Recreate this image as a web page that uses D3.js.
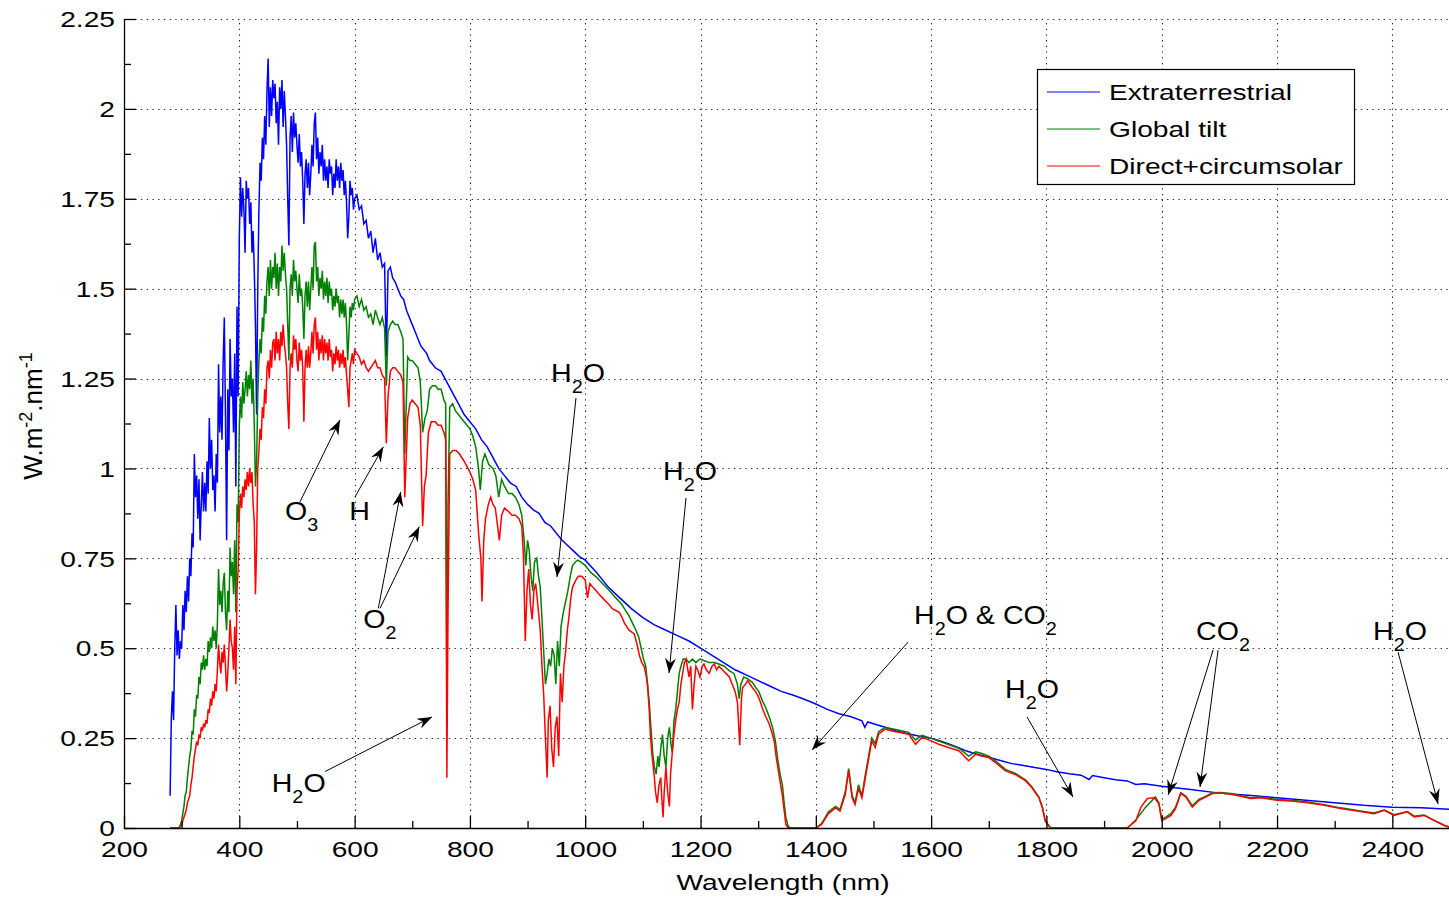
<!DOCTYPE html>
<html><head><meta charset="utf-8">
<script src="https://cdn.jsdelivr.net/npm/d3@7"></script>
<style>
html,body{margin:0;padding:0;background:#fff;}
svg{display:block;font-family:"Liberation Sans",Arial,sans-serif;}
</style></head>
<body><svg id="chart" width="1449" height="898"></svg>
<script>
// ---------- DATA (wavelength nm, W.m-2.nm-1) ----------
const extraterrestrial = [
[280,0.09],[282,0.30],[284,0.38],[286,0.30],[288,0.50],[290,0.62],[292,0.48],[294,0.55],[296,0.47],[298,0.52],
[300,0.50],[302,0.62],[304,0.55],[306,0.66],[308,0.60],[310,0.70],[312,0.63],[314,0.75],[316,0.70],[318,0.82],
[320,0.78],[322,1.04],[324,0.92],[326,0.98],[328,0.86],[330,0.97],[332,0.80],[334,0.90],[336,0.99],[338,0.88],
[340,0.96],[342,0.88],[344,1.02],[346,0.93],[348,1.14],[350,1.00],[352,1.08],[354,0.94],[356,0.98],[358,0.88],
[360,1.04],[362,0.96],[364,1.29],[366,1.10],[368,1.20],[370,1.08],[372,1.30],[374,1.42],[376,1.15],[378,0.80],
[380,1.22],[382,1.05],[384,1.36],[386,1.20],[388,1.25],[390,1.10],[392,1.32],[394,0.95],[396,1.45],[398,1.20],
[400,1.64],[402,1.81],[404,1.70],[406,1.78],[408,1.72],[410,1.60],[412,1.80],[414,1.75],[416,1.78],[418,1.68],
[420,1.74],[422,1.60],[424,1.66],[426,1.55],[428,1.40],[430,1.15],[432,1.50],[434,1.72],[436,1.85],[438,1.80],
[440,1.92],[442,1.86],[444,1.98],[446,1.90],[448,2.05],[450,2.14],[452,1.95],[454,2.06],[456,1.98],[458,2.08],
[460,2.03],[462,2.07],[464,1.96],[466,2.02],[468,1.90],[470,2.06],[472,2.00],[474,2.08],[476,1.95],[478,2.05],
[480,1.98],[482,1.90],[484,1.75],[486,1.62],[488,1.92],[490,1.98],[492,1.88],[494,1.99],[496,1.92],[498,1.96],
[500,1.90],[502,1.85],[504,1.93],[506,1.84],[508,1.88],[510,1.80],[512,1.68],[514,1.82],[516,1.86],[518,1.78],
[520,1.85],[522,1.76],[524,1.82],[526,1.90],[528,1.84],[530,1.96],[532,1.99],[534,1.86],[536,1.92],[538,1.82],
[540,1.88],[542,1.84],[544,1.90],[546,1.80],[548,1.86],[550,1.80],[552,1.84],[554,1.78],[556,1.86],[558,1.82],
[560,1.84],[562,1.76],[564,1.82],[566,1.78],[568,1.86],[570,1.80],[572,1.84],[574,1.78],[576,1.85],[578,1.80],
[580,1.83],[582,1.76],[584,1.80],[586,1.74],[588,1.64],[590,1.70],[592,1.80],[594,1.76],[596,1.78],[598,1.72],
[600,1.75],[604,1.76],[608,1.72],[612,1.73],[616,1.68],[620,1.69],[624,1.64],[628,1.66],[632,1.60],[636,1.64],
[640,1.58],[644,1.60],[648,1.56],[652,1.57],[655,1.31],[658,1.55],[662,1.56],[666,1.53],[670,1.52],[675,1.50],
[680,1.48],[685,1.47],[690,1.44],[695,1.42],[700,1.40],[705,1.38],[710,1.36],[715,1.34],[720,1.33],[725,1.32],
[730,1.30],[740,1.28],[750,1.27],[760,1.24],[770,1.21],[780,1.18],[790,1.15],[800,1.13],[810,1.11],[820,1.08],
[830,1.06],[840,1.03],[850,1.00],[860,0.98],[870,0.96],[880,0.95],[890,0.92],[900,0.90],[910,0.885],[920,0.875],
[930,0.85],[940,0.84],[950,0.82],[960,0.80],[970,0.785],[980,0.77],[990,0.755],[1000,0.745],[1020,0.71],[1040,0.67],
[1060,0.64],[1080,0.61],[1100,0.585],[1120,0.565],[1140,0.55],[1160,0.535],[1180,0.52],[1200,0.50],[1220,0.48],
[1240,0.46],[1260,0.44],[1280,0.425],[1300,0.41],[1320,0.395],[1340,0.38],[1360,0.37],[1380,0.358],[1400,0.345],
[1420,0.33],[1440,0.318],[1460,0.31],[1480,0.298],[1485,0.28],[1490,0.295],[1500,0.29],[1520,0.28],[1540,0.27],
[1560,0.262],[1580,0.255],[1600,0.25],[1620,0.24],[1640,0.228],[1660,0.215],[1680,0.205],[1700,0.197],[1720,0.188],
[1740,0.179],[1760,0.174],[1780,0.168],[1800,0.163],[1820,0.156],[1840,0.151],[1860,0.147],[1874,0.135],[1880,0.146],
[1900,0.14],[1920,0.134],[1940,0.131],[1955,0.121],[1970,0.123],[2000,0.116],[2050,0.107],[2100,0.097],[2150,0.091],
[2200,0.084],[2250,0.077],[2300,0.07],[2350,0.063],[2400,0.058],[2450,0.056],[2500,0.052]
];
const globalTilt = [
[280,0],[296,0],[300,0.02],[304,0.06],[306,0.09],[308,0.10],[310,0.14],[312,0.17],[314,0.20],[316,0.22],[318,0.27],
[320,0.26],[322,0.33],[324,0.31],[326,0.37],[328,0.36],[330,0.42],[332,0.40],[334,0.46],[336,0.44],[338,0.48],
[340,0.44],[342,0.47],[344,0.45],[346,0.52],[348,0.49],[350,0.53],[352,0.50],[354,0.56],[356,0.52],[358,0.55],
[360,0.50],[362,0.57],[364,0.72],[366,0.62],[368,0.66],[370,0.60],[372,0.68],[374,0.71],[376,0.60],[378,0.55],
[380,0.66],[382,0.60],[384,0.78],[386,0.70],[388,0.74],[390,0.65],[392,0.80],[394,0.60],[396,0.90],[398,0.85],
[400,1.12],[402,1.20],[404,1.14],[406,1.24],[408,1.18],[410,1.22],[412,1.27],[414,1.20],[416,1.26],[418,1.22],
[420,1.30],[422,1.18],[424,1.25],[426,1.12],[428,0.95],[430,1.02],[432,1.20],[434,1.30],[436,1.36],[438,1.32],
[440,1.42],[442,1.38],[444,1.48],[446,1.43],[448,1.52],[450,1.56],[452,1.48],[454,1.58],[456,1.50],[458,1.56],
[460,1.53],[462,1.60],[464,1.50],[466,1.57],[468,1.48],[470,1.56],[472,1.52],[474,1.62],[476,1.55],[478,1.60],
[480,1.54],[482,1.50],[484,1.40],[486,1.30],[488,1.50],[490,1.54],[492,1.48],[494,1.58],[496,1.52],[498,1.55],
[500,1.50],[502,1.46],[504,1.54],[506,1.48],[508,1.50],[510,1.45],[512,1.36],[514,1.48],[516,1.52],[518,1.45],
[520,1.52],[522,1.44],[524,1.50],[526,1.56],[528,1.50],[530,1.62],[532,1.63],[534,1.52],[536,1.56],[538,1.48],
[540,1.53],[542,1.50],[544,1.55],[546,1.47],[548,1.52],[550,1.48],[552,1.53],[554,1.46],[556,1.52],[558,1.48],
[560,1.50],[562,1.44],[564,1.48],[566,1.45],[568,1.50],[570,1.46],[572,1.48],[574,1.42],[576,1.47],[578,1.43],
[580,1.47],[582,1.42],[584,1.46],[586,1.40],[588,1.30],[590,1.37],[592,1.45],[594,1.42],[596,1.46],[598,1.44],
[600,1.47],[604,1.48],[608,1.45],[612,1.47],[616,1.44],[620,1.45],[624,1.42],[628,1.43],[632,1.40],[636,1.44],
[640,1.42],[644,1.40],[648,1.42],[652,1.39],[655,1.23],[658,1.38],[662,1.40],[666,1.41],[670,1.40],[675,1.40],
[680,1.38],[684,1.36],[687,1.04],[690,1.20],[692,1.31],[696,1.30],[700,1.30],[705,1.29],[710,1.28],[714,1.24],
[718,1.10],[722,1.14],[726,1.16],[730,1.22],[735,1.23],[740,1.23],[745,1.22],[750,1.22],[755,1.19],[758,1.18],
[760,0.35],[762,0.90],[765,1.17],[770,1.18],[775,1.16],[780,1.15],[790,1.13],[800,1.11],[805,1.09],[810,1.06],
[815,1.00],[818,0.94],[822,1.02],[826,1.04],[833,1.01],[840,1.00],[845,0.98],[850,0.92],[855,0.97],[860,0.95],
[867,0.93],[873,0.93],[879,0.92],[885,0.90],[890,0.87],[894,0.80],[897,0.73],[900,0.80],[903,0.77],[906,0.70],
[909,0.66],[912,0.74],[916,0.75],[919,0.70],[922,0.67],[925,0.58],[928,0.49],[931,0.40],[934,0.43],[937,0.47],
[940,0.45],[943,0.50],[946,0.48],[949,0.40],[952,0.52],[955,0.45],[958,0.56],[962,0.60],[966,0.63],[970,0.66],
[974,0.70],[978,0.73],[983,0.74],[987,0.745],[992,0.74],[1000,0.73],[1010,0.71],[1018,0.70],[1027,0.685],[1036,0.67],
[1045,0.655],[1053,0.64],[1062,0.625],[1068,0.61],[1076,0.59],[1082,0.57],[1088,0.55],[1093,0.53],[1097,0.50],
[1101,0.47],[1105,0.45],[1108,0.40],[1111,0.35],[1114,0.28],[1117,0.21],[1120,0.17],[1123,0.15],[1126,0.20],
[1128,0.17],[1131,0.22],[1134,0.26],[1137,0.20],[1140,0.17],[1143,0.25],[1146,0.28],[1149,0.23],[1151,0.21],
[1154,0.30],[1157,0.33],[1160,0.38],[1163,0.43],[1166,0.45],[1170,0.47],[1175,0.47],[1180,0.46],[1186,0.47],
[1192,0.46],[1199,0.47],[1207,0.465],[1215,0.46],[1224,0.46],[1232,0.456],[1241,0.45],[1250,0.437],[1258,0.43],
[1264,0.40],[1267,0.36],[1270,0.40],[1275,0.42],[1282,0.415],[1290,0.405],[1296,0.39],[1301,0.38],[1307,0.355],
[1313,0.335],[1319,0.31],[1325,0.28],[1330,0.24],[1334,0.19],[1338,0.15],[1342,0.12],[1345,0.07],[1348,0.03],
[1352,0.005],[1356,0],[1400,0],[1410,0.012],[1422,0.045],[1434,0.06],[1442,0.052],[1451,0.10],[1457,0.165],
[1463,0.09],[1468,0.07],[1474,0.12],[1480,0.09],[1486,0.15],[1491,0.195],[1497,0.25],[1503,0.235],[1509,0.268],
[1520,0.28],[1532,0.276],[1544,0.272],[1561,0.266],[1573,0.245],[1584,0.258],[1599,0.25],[1613,0.242],[1630,0.232],
[1648,0.222],[1665,0.20],[1677,0.212],[1688,0.207],[1700,0.20],[1712,0.186],[1729,0.163],[1746,0.152],[1764,0.133],
[1775,0.114],[1787,0.086],[1793,0.058],[1798,0.02],[1807,0],[1940,0],[1955,0.022],[1972,0.058],[1989,0.086],
[1995,0.07],[2000,0.025],[2007,0.03],[2016,0.04],[2024,0.058],[2033,0.098],[2042,0.088],[2053,0.062],[2065,0.08],
[2076,0.088],[2088,0.098],[2102,0.099],[2120,0.096],[2137,0.09],[2154,0.084],[2172,0.086],[2200,0.079],[2224,0.077],
[2253,0.072],[2282,0.065],[2310,0.056],[2339,0.049],[2368,0.042],[2386,0.05],[2403,0.037],[2426,0.046],[2438,0.033],
[2455,0.036],[2472,0.022],[2490,0.008],[2500,0.002]
];
const directCircumsolar = [
[280,0],[296,0],[300,0.01],[304,0.03],[308,0.05],[310,0.07],[312,0.08],[314,0.09],[316,0.12],[318,0.14],[320,0.17],
[322,0.20],[324,0.22],[326,0.24],[328,0.23],[330,0.26],[332,0.25],[334,0.28],[336,0.27],[338,0.29],[340,0.28],
[342,0.30],[344,0.29],[346,0.33],[348,0.32],[350,0.36],[352,0.34],[354,0.38],[356,0.36],[358,0.40],[360,0.38],
[362,0.44],[364,0.51],[366,0.46],[368,0.43],[370,0.49],[372,0.46],[374,0.51],[376,0.45],[378,0.38],[380,0.43],
[382,0.50],[384,0.58],[386,0.52],[388,0.50],[390,0.44],[392,0.56],[394,0.40],[396,0.66],[398,0.72],[400,0.87],
[402,0.93],[404,0.89],[406,0.95],[408,0.92],[410,0.97],[412,0.94],[414,0.99],[416,0.95],[418,1.00],[420,0.96],
[422,0.99],[424,0.90],[426,0.85],[428,0.65],[430,0.78],[432,1.00],[434,1.05],[436,1.11],[438,1.08],[440,1.17],
[442,1.14],[444,1.22],[446,1.18],[448,1.28],[450,1.30],[452,1.25],[454,1.33],[456,1.28],[458,1.35],[460,1.36],
[462,1.30],[464,1.38],[466,1.32],[468,1.36],[470,1.30],[472,1.38],[474,1.34],[476,1.40],[478,1.35],[480,1.32],
[482,1.28],[484,1.18],[486,1.11],[488,1.28],[490,1.32],[492,1.28],[494,1.37],[496,1.33],[498,1.36],[500,1.30],
[502,1.27],[504,1.35],[506,1.30],[508,1.33],[510,1.28],[512,1.13],[514,1.28],[516,1.33],[518,1.28],[520,1.34],
[522,1.28],[524,1.32],[526,1.38],[528,1.32],[530,1.40],[532,1.42],[534,1.33],[536,1.38],[538,1.30],[540,1.36],
[542,1.32],[544,1.37],[546,1.30],[548,1.36],[550,1.32],[552,1.35],[554,1.30],[556,1.36],[558,1.31],[560,1.33],
[562,1.27],[564,1.32],[566,1.29],[568,1.34],[570,1.30],[572,1.33],[574,1.28],[576,1.32],[578,1.29],[580,1.33],
[582,1.28],[584,1.31],[586,1.26],[588,1.22],[590,1.17],[592,1.28],[594,1.30],[596,1.32],[598,1.29],[600,1.33],
[604,1.32],[608,1.31],[612,1.29],[616,1.30],[620,1.28],[624,1.27],[628,1.28],[632,1.29],[636,1.30],[640,1.28],
[644,1.28],[648,1.26],[652,1.25],[655,1.07],[658,1.20],[662,1.27],[666,1.28],[670,1.28],[675,1.27],[680,1.26],
[684,1.24],[687,0.92],[690,1.05],[692,1.14],[696,1.18],[700,1.19],[705,1.18],[710,1.17],[714,1.12],[718,0.84],
[721,0.95],[724,0.98],[728,1.10],[733,1.13],[740,1.13],[745,1.12],[750,1.12],[755,1.10],[758,1.08],[760,0.14],
[762,0.60],[765,1.04],[770,1.05],[776,1.05],[782,1.04],[790,1.02],[800,0.99],[805,0.97],[810,0.94],[815,0.82],
[819,0.75],[821,0.63],[824,0.80],[827,0.86],[832,0.90],[836,0.92],[840,0.90],[844,0.89],[848,0.84],[851,0.80],
[855,0.87],[860,0.89],[867,0.88],[873,0.87],[879,0.87],[885,0.86],[890,0.84],[893,0.75],[896,0.52],[899,0.66],
[902,0.72],[905,0.62],[908,0.58],[911,0.66],[914,0.68],[916,0.65],[919,0.60],[922,0.55],[925,0.45],[928,0.37],
[931,0.25],[934,0.14],[936,0.30],[939,0.34],[942,0.22],[945,0.17],[948,0.28],[951,0.31],[954,0.20],[957,0.43],
[960,0.35],[963,0.45],[966,0.49],[969,0.55],[972,0.59],[975,0.64],[978,0.67],[984,0.69],[988,0.70],[994,0.70],
[1000,0.69],[1004,0.64],[1008,0.68],[1013,0.67],[1019,0.66],[1024,0.65],[1030,0.64],[1036,0.63],[1042,0.62],
[1047,0.61],[1053,0.605],[1059,0.60],[1064,0.585],[1068,0.57],[1072,0.56],[1076,0.55],[1081,0.545],[1085,0.54],
[1090,0.51],[1094,0.48],[1098,0.46],[1102,0.45],[1105,0.43],[1108,0.40],[1111,0.33],[1113,0.26],[1116,0.20],
[1120,0.14],[1122,0.10],[1125,0.07],[1128,0.12],[1131,0.14],[1133,0.08],[1135,0.03],[1137,0.10],[1140,0.17],
[1143,0.10],[1146,0.06],[1148,0.15],[1151,0.21],[1154,0.26],[1157,0.30],[1160,0.33],[1163,0.35],[1166,0.40],
[1169,0.43],[1172,0.46],[1175,0.47],[1178,0.44],[1180,0.42],[1183,0.45],[1186,0.33],[1189,0.40],[1192,0.45],
[1195,0.44],[1199,0.42],[1203,0.45],[1206,0.456],[1210,0.44],[1215,0.43],[1220,0.45],[1224,0.456],[1228,0.44],
[1232,0.45],[1238,0.44],[1244,0.43],[1250,0.42],[1255,0.40],[1260,0.38],[1264,0.35],[1268,0.23],[1271,0.36],
[1273,0.39],[1278,0.40],[1282,0.41],[1286,0.40],[1290,0.39],[1295,0.38],[1299,0.37],[1304,0.35],[1308,0.33],
[1313,0.31],[1319,0.29],[1323,0.27],[1328,0.24],[1331,0.20],[1334,0.17],[1338,0.13],[1342,0.09],[1345,0.05],
[1348,0.01],[1352,0],[1400,0],[1410,0.01],[1422,0.04],[1434,0.056],[1442,0.047],[1451,0.093],[1457,0.16],
[1463,0.084],[1468,0.065],[1474,0.11],[1480,0.084],[1486,0.14],[1491,0.187],[1497,0.243],[1503,0.224],[1509,0.261],
[1520,0.275],[1532,0.27],[1544,0.266],[1561,0.261],[1573,0.233],[1584,0.252],[1599,0.243],[1613,0.233],[1630,0.224],
[1648,0.215],[1665,0.187],[1677,0.205],[1688,0.20],[1700,0.196],[1712,0.182],[1729,0.159],[1746,0.149],[1764,0.131],
[1775,0.112],[1787,0.084],[1793,0.056],[1798,0.019],[1807,0],[1940,0],[1955,0.02],[1964,0.058],[1975,0.082],
[1987,0.084],[1995,0.068],[2000,0.021],[2007,0.026],[2016,0.035],[2024,0.054],[2033,0.096],[2042,0.086],[2053,0.058],
[2065,0.077],[2076,0.086],[2088,0.096],[2102,0.097],[2120,0.094],[2137,0.088],[2154,0.082],[2172,0.084],[2200,0.077],
[2224,0.075],[2253,0.07],[2282,0.063],[2310,0.054],[2339,0.047],[2368,0.04],[2386,0.049],[2403,0.035],[2426,0.045],
[2438,0.031],[2455,0.035],[2472,0.021],[2490,0.007],[2500,0.001]
];
const seriesNames = ["Extraterrestrial","Global tilt","Direct+circumsolar"];
const xMajorTicks = [200,400,600,800,1000,1200,1400,1600,1800,2000,2200,2400];
const xMinorTicks = [300,500,700,900,1100,1300,1500,1700,1900,2100,2300];
const yMajorTicks = [0,0.25,0.5,0.75,1,1.25,1.5,1.75,2,2.25];
const yTickLabels = ["0","0.25","0.5","0.75","1","1.25","1.5","1.75","2","2.25"];
const yMinorTicks = [0.125,0.375,0.625,0.875,1.125,1.375,1.625,1.875,2.125];
const xLabel = "Wavelength (nm)";
// annotation labels: text parts [text, isSubscript], anchor in data units
const annotationLabels = [
  {parts:[["O",0],["3",1]], at:[479.3,0.857]},
  {parts:[["H",0]], at:[590.8,0.857]},
  {parts:[["O",0],["2",1]], at:[615.1,0.555]},
  {parts:[["H",0],["2",1],["O",0]], at:[456.2,0.101]},
  {parts:[["H",0],["2",1],["O",0]], at:[940.7,1.240]},
  {parts:[["H",0],["2",1],["O",0]], at:[1135,0.968]},
  {parts:[["H",0],["2",1],["O & CO",0],["2",1]], at:[1570.3,0.567]},
  {parts:[["H",0],["2",1],["O",0]], at:[1728.2,0.362]},
  {parts:[["CO",0],["2",1]], at:[2059.5,0.523]},
  {parts:[["H",0],["2",1],["O",0]], at:[2366.5,0.523]}
];
// arrows: [from nm, from val, tip nm, tip val]
const annotationArrows = [
  [505.3,0.907,574.7,1.135],
  [600.7,0.921,649.8,1.060],
  [641.1,0.611,680.0,0.935],
  [644.1,0.611,712.2,0.838],
  [548.7,0.157,734.3,0.309],
  [984.0,1.196,951.1,0.698],
  [1174.8,0.918,1145.4,0.431],
  [1560.0,0.517,1393.4,0.217],
  [1766.3,0.309,1846.1,0.086],
  [2089.0,0.495,2011.0,0.092],
  [2097.7,0.495,2066.4,0.114],
  [2410.0,0.489,2479.3,0.067]
];

// ---------- LAYOUT ----------
const colors = ["#0000ff","#008000","#ff0000"];
const pL=124, pR=1450, pT=19, pB=828;
const SX = 1.28;      // horizontal stretch of axis text
const fs = 22;
const svg = d3.select("#chart");
svg.append("rect").attr("width",1449).attr("height",898).attr("fill","#fff");

const x = d3.scaleLinear().domain([200,2500]).range([pL,pR]);
const y = d3.scaleLinear().domain([0,2.25]).range([pB,pT]);

// grid
const grid = svg.append("g").attr("stroke","#222").attr("stroke-width",1.1)
  .attr("stroke-dasharray","1.3,4.4").attr("fill","none");
grid.selectAll("line.v").data(xMajorTicks.filter(d=>d>200)).join("line")
  .attr("x1",d=>Math.round(x(d))+0.5).attr("x2",d=>Math.round(x(d))+0.5)
  .attr("y1",pB).attr("y2",pT);
grid.selectAll("line.h").data(yMajorTicks.filter(d=>d>0)).join("line")
  .attr("x1",pL).attr("x2",pR)
  .attr("y1",d=>Math.round(y(d))+0.5).attr("y2",d=>Math.round(y(d))+0.5);

// clip
svg.append("clipPath").attr("id","clip").append("rect")
  .attr("x",pL).attr("y",0).attr("width",pR-pL).attr("height",pB+1);

const line = d3.line().x(d=>x(d[0])).y(d=>y(d[1]));
const plotG = svg.append("g").attr("clip-path","url(#clip)");
[extraterrestrial, globalTilt, directCircumsolar].forEach((s,i)=>{
  plotG.append("path").datum(s).attr("d",line).attr("fill","none")
    .attr("stroke",colors[i]).attr("stroke-width",1.5).attr("stroke-linejoin","miter");
});

// axes
const axisStyle = g => {
  g.select(".domain").attr("stroke","#000").attr("stroke-width",1.3);
  g.selectAll(".tick line").attr("stroke","#000").attr("stroke-width",1.3);
};
const xAxis = svg.append("g").attr("transform",`translate(0,${pB})`)
  .call(d3.axisBottom(x).tickValues(xMajorTicks).tickSizeInner(-12).tickSizeOuter(0).tickFormat(d3.format("d")))
  .call(axisStyle);
xAxis.selectAll(".tick text").attr("font-size",fs).attr("fill","#000")
  .attr("font-family","Liberation Sans, Arial, sans-serif")
  .attr("y",0).attr("dy",0).attr("transform",`translate(0,29) scale(${SX},1)`);
svg.append("g").attr("transform",`translate(0,${pB})`)
  .call(d3.axisBottom(x).tickValues(xMinorTicks).tickSizeInner(-7).tickSizeOuter(0).tickFormat(""))
  .call(g=>g.select(".domain").remove())
  .call(axisStyle);

const yAxis = svg.append("g").attr("transform",`translate(${pL},0)`)
  .call(d3.axisLeft(y).tickValues(yMajorTicks).tickSizeInner(-12).tickSizeOuter(0)
    .tickFormat((d,i)=>yTickLabels[i]))
  .call(axisStyle);
yAxis.selectAll(".tick text").attr("font-size",fs).attr("fill","#000")
  .attr("font-family","Liberation Sans, Arial, sans-serif")
  .attr("x",0).attr("dy","0.35em").attr("transform",`translate(-9,0) scale(${SX},1)`);
svg.append("g").attr("transform",`translate(${pL},0)`)
  .call(d3.axisLeft(y).tickValues(yMinorTicks).tickSizeInner(-7).tickSizeOuter(0).tickFormat(""))
  .call(g=>g.select(".domain").remove())
  .call(axisStyle);

// axis labels
svg.append("text").attr("text-anchor","middle").attr("font-size",fs)
  .attr("transform",`translate(${(pL+pR)/2-4},890) scale(${SX},1)`).text(xLabel);
const yl = svg.append("text").attr("text-anchor","middle").attr("font-size",26)
  .attr("transform",`translate(42,416) rotate(-90)`);
yl.append("tspan").text("W.m");
yl.append("tspan").attr("dy",-10).attr("font-size",18).text("-2");
yl.append("tspan").attr("dy",10).text(".nm");
yl.append("tspan").attr("dy",-10).attr("font-size",18).text("-1");

// legend
const lg = svg.append("g");
lg.append("rect").attr("x",1037.5).attr("y",69.5).attr("width",317).attr("height",115)
  .attr("fill","#fff").attr("stroke","#000").attr("stroke-width",1.2);
const rowsY = [92,129,166];
seriesNames.forEach((n,i)=>{
  lg.append("line").attr("x1",1047).attr("x2",1100).attr("y1",rowsY[i]).attr("y2",rowsY[i])
    .attr("stroke",colors[i]).attr("stroke-width",1.2);
  lg.append("text").attr("font-size",fs).attr("fill","#000")
    .attr("transform",`translate(1109,${rowsY[i]+8}) scale(${SX},1)`).text(n);
});

// annotations
const ann = svg.append("g");
annotationLabels.forEach(a=>{
  const t = ann.append("text").attr("font-size",26).attr("fill","#000")
    .attr("transform",`translate(${x(a.at[0])},${y(a.at[1])}) scale(1.1,1)`);
  let sub=false;
  a.parts.forEach(p=>{
    const ts = t.append("tspan").text(p[0]);
    if(p[1] && !sub){ ts.attr("dy",11).attr("font-size",18); sub=true; }
    else if(!p[1] && sub){ ts.attr("dy",-11); sub=false; }
    else if(p[1]) ts.attr("font-size",18);
  });
});
annotationArrows.forEach(a=>{
  const x1=x(a[0]), y1=y(a[1]), x2=x(a[2]), y2=y(a[3]);
  const ang = Math.atan2(y2-y1,x2-x1)*180/Math.PI;
  ann.append("line").attr("x1",x1).attr("y1",y1).attr("x2",x2).attr("y2",y2)
    .attr("stroke","#000").attr("stroke-width",1);
  ann.append("path").attr("d","M0,0 L-15,-5.5 L-10,0 L-15,5.5 Z")
    .attr("transform",`translate(${x2},${y2}) rotate(${ang})`).attr("fill","#000");
});
</script></body></html>
